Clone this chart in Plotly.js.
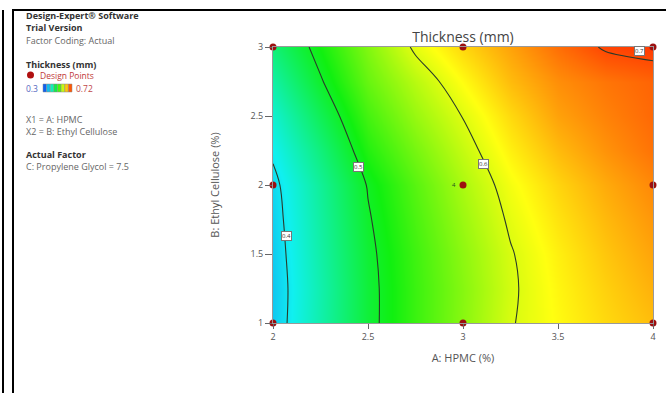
<!DOCTYPE html>
<html>
<head>
<meta charset="utf-8">
<script src="https://cdn.plot.ly/plotly-3.0.1.min.js"></script>
<style>
  html, body { margin: 0; padding: 0; background: #fff; }
  #wrap { position: relative; width: 666px; height: 393px; overflow: hidden; }
  #chart { position: absolute; left: 0; top: 0; width: 666px; height: 393px; }
  .fr { position: absolute; background: #000; z-index: 10; }
</style>
</head>
<body>
<div id="wrap">
  <div id="chart"></div>
  <div class="fr" style="left:2px;top:10px;width:2px;height:383px;"></div>
  <div class="fr" style="left:12px;top:10px;width:2px;height:383px;"></div>
  <div class="fr" style="left:12px;top:9px;width:654px;height:2px;"></div>
</div>
<script>
// ---- data ----
const hpmc = [2, 2.25, 2.5, 2.75, 3, 3.25, 3.5, 3.75, 4];          // A: HPMC (%)
const ethylCellulose = [1, 1.25, 1.5, 1.75, 2, 2.25, 2.5, 2.75, 3]; // B: Ethyl Cellulose (%)
// thickness (mm), one row per ethyl cellulose level
const thickness = [
  [0.384, 0.438, 0.491, 0.529, 0.563, 0.598, 0.617, 0.633, 0.646],
  [0.383, 0.437, 0.491, 0.529, 0.562, 0.596, 0.619, 0.637, 0.652],
  [0.385, 0.440, 0.493, 0.531, 0.565, 0.598, 0.622, 0.642, 0.658],
  [0.388, 0.443, 0.497, 0.536, 0.571, 0.604, 0.628, 0.648, 0.664],
  [0.392, 0.447, 0.502, 0.542, 0.578, 0.611, 0.635, 0.655, 0.671],
  [0.405, 0.460, 0.518, 0.555, 0.589, 0.622, 0.647, 0.666, 0.681],
  [0.420, 0.478, 0.533, 0.570, 0.601, 0.633, 0.659, 0.674, 0.686],
  [0.440, 0.497, 0.548, 0.584, 0.616, 0.647, 0.668, 0.680, 0.688],
  [0.462, 0.512, 0.560, 0.605, 0.634, 0.659, 0.683, 0.703, 0.708]
];
const designX = [2, 3, 4, 2, 3, 4, 2, 3, 4];
const designY = [1, 1, 1, 2, 2, 2, 3, 3, 3];
const contourLevels = [0.4, 0.5, 0.6, 0.7];
const xTicks = [2, 2.5, 3, 3.5, 4];
const yTicks = [1, 1.5, 2, 2.5, 3];
const colorMin = 0.3, colorMax = 0.72;

// ---- styling ----
const rainbow = [[0, '#1030f0'], [0.25, '#10f0f0'], [0.5, '#10f010'], [0.75, '#ffff10'], [1, '#ff2000']];
const L = 273, T = 47, W = 380, H = 276;
const px = v => (v - L) / W;
const py = v => (T + H - v) / H;
const FONT = 'Open Sans, Noto Sans, sans-serif';

function hex2rgb(h) { return [parseInt(h.substr(1, 2), 16), parseInt(h.substr(3, 2), 16), parseInt(h.substr(5, 2), 16)]; }
function sampleScale(t) {
  for (let i = 1; i < rainbow.length; i++) {
    if (t <= rainbow[i][0]) {
      const a = rainbow[i - 1], b = rainbow[i];
      const f = (t - a[0]) / (b[0] - a[0]);
      const ca = hex2rgb(a[1]), cb = hex2rgb(b[1]);
      return 'rgb(' + ca.map((c, k) => Math.round(c + (cb[k] - c) * f)).join(',') + ')';
    }
  }
  return rainbow[rainbow.length - 1][1];
}

const traces = [
  {
    type: 'contour',
    x: hpmc, y: ethylCellulose, z: thickness,
    zauto: false, zmin: colorMin, zmax: colorMax,
    colorscale: rainbow,
    showscale: false,
    contours: { start: contourLevels[0], end: contourLevels[contourLevels.length - 1], size: 0.1, coloring: 'heatmap', showlabels: false },
    line: { color: '#2a3a2a', width: 1.1, smoothing: 1 },
    hoverinfo: 'skip'
  },
  {
    type: 'scatter', mode: 'markers',
    x: designX, y: designY,
    marker: { color: '#9c1010', size: 7 },
    cliponaxis: false, hoverinfo: 'skip'
  }
];

const ann = [];
function txt(x, y, t, opts) {
  ann.push(Object.assign({
    xref: 'paper', yref: 'paper', x: px(x), y: py(y), text: t, showarrow: false,
    xanchor: 'left', yanchor: 'middle',
    font: { family: FONT, size: 9, color: '#666' }
  }, opts || {}));
}
const boldFont = { family: FONT, size: 9, color: '#333' };
txt(24, 16, '<b>Design-Expert® Software</b>', { font: boldFont });
txt(24, 28, '<b>Trial Version</b>', { font: boldFont });
txt(24, 40, 'Factor Coding: Actual');
txt(24, 64, '<b>Thickness (mm)</b>', { font: boldFont });
txt(38, 75, 'Design Points', { font: { family: FONT, size: 8.5, color: '#c03838' } });
txt(24, 88, String(colorMin), { font: { family: FONT, size: 8.5, color: '#5567c0' } });
txt(74, 88, String(colorMax), { font: { family: FONT, size: 8.5, color: '#c04848' } });
txt(24, 119, 'X1 = A: HPMC');
txt(24, 131, 'X2 = B: Ethyl Cellulose');
txt(24, 154, '<b>Actual Factor</b>', { font: boldFont });
txt(24, 166, 'C: Propylene Glycol = 7.5');

// contour labels
const labelSpots = [[2.07, 1.63], [2.45, 2.13], [3.11, 2.15], [3.93, 2.97]];
contourLevels.forEach((lv, i) => {
  ann.push({
    xref: 'x', yref: 'y', x: labelSpots[i][0], y: labelSpots[i][1],
    text: lv.toFixed(1), showarrow: false,
    font: { family: FONT, size: 6, color: '#333' },
    bgcolor: '#ffffff', bordercolor: '#777', borderwidth: 1, borderpad: 0
  });
});
// replicate mark at the centre point
ann.push({ xref: 'x', yref: 'y', x: 2.95, y: 2, text: '4', showarrow: false,
  font: { family: FONT, size: 6, color: '#205020' } });

const shapes = [];
// legend dot
shapes.push({ type: 'circle', xref: 'paper', yref: 'paper',
  x0: px(27), x1: px(34), y0: py(78.5), y1: py(71.5), fillcolor: '#b01010', line: { width: 0 } });
// mini colour bar
const nSeg = 8, bx0 = 43, bx1 = 72;
for (let i = 0; i < nSeg; i++) {
  const a = bx0 + (bx1 - bx0) * i / nSeg, b = bx0 + (bx1 - bx0) * (i + 1) / nSeg;
  shapes.push({ type: 'rect', xref: 'paper', yref: 'paper', x0: px(a), x1: px(b), y0: py(92), y1: py(84),
    fillcolor: sampleScale((i + 0.5) / nSeg), line: { color: '#888', width: 0.5 } });
}

const layout = {
  width: 666, height: 393,
  margin: { l: L, r: 666 - L - W, t: T, b: 393 - T - H },
  paper_bgcolor: '#ffffff', plot_bgcolor: '#ffffff',
  showlegend: false,
  font: { family: FONT, color: '#555' },
  title: { text: 'Thickness (mm)', font: { family: FONT, size: 14, color: '#444' },
    xref: 'paper', x: 0.5, xanchor: 'center', yref: 'container', y: 1 - 37 / 393, yanchor: 'middle' },
  xaxis: {
    range: [2, 4], tickvals: xTicks, ticktext: xTicks.map(String),
    ticks: 'outside', ticklen: 5, tickcolor: '#666', tickfont: { size: 9, color: '#555' },
    showgrid: false, zeroline: false, showline: true, linecolor: '#999', linewidth: 1, mirror: true,
    title: { text: 'A: HPMC (%)', font: { size: 11, color: '#555' }, standoff: 12 }
  },
  yaxis: {
    range: [1, 3], tickvals: yTicks, ticktext: yTicks.map(String),
    ticks: 'outside', ticklen: 7, tickcolor: '#666', tickfont: { size: 9, color: '#555' },
    showgrid: false, zeroline: false, showline: true, linecolor: '#999', linewidth: 1, mirror: true,
    title: { text: 'B: Ethyl Cellulose (%)', font: { size: 11, color: '#555' }, standoff: 28 }
  },
  annotations: ann,
  shapes: shapes
};

Plotly.newPlot('chart', traces, layout, { staticPlot: true, displayModeBar: false });
</script>
</body>
</html>
